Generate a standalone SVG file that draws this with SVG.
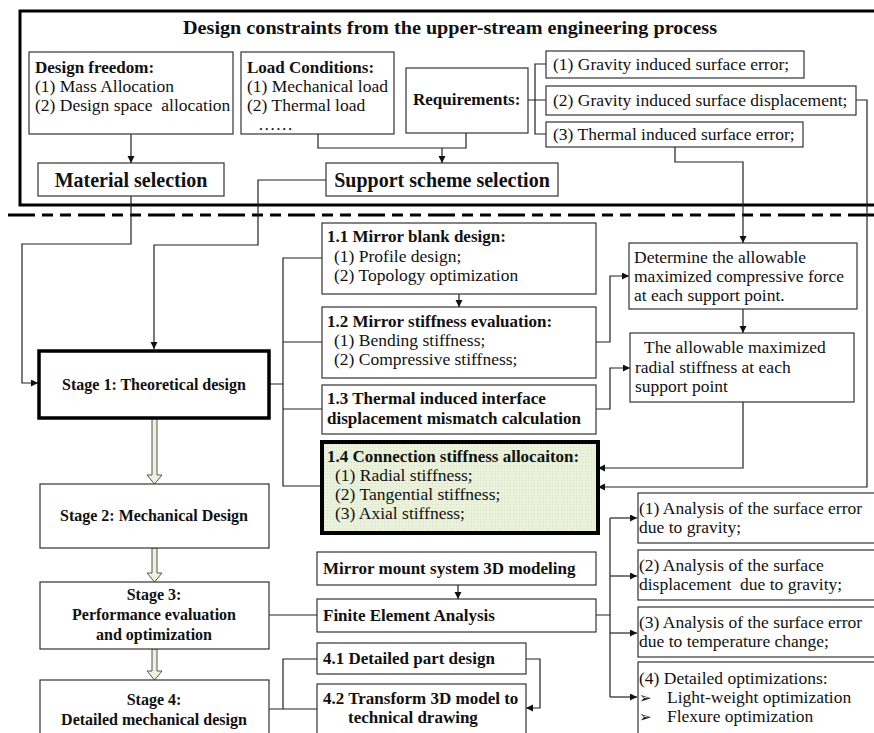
<svg xmlns="http://www.w3.org/2000/svg" width="874" height="733" viewBox="0 0 874 733">
<style>
text{font-family:"Liberation Serif","Times New Roman",serif;fill:#111;}
.t{font-size:17.5px;}
.b{font-size:17px;font-weight:bold;}
.sb{font-size:16px;font-weight:bold;text-anchor:middle;}
.bb{font-size:20px;font-weight:bold;text-anchor:middle;}
.box{fill:#fff;stroke:#333;stroke-width:1.2;}
.thick{fill:#fff;stroke:#000;stroke-width:3.5;}
.ln{fill:none;stroke:#222;stroke-width:1.2;}
.arr{fill:none;stroke:#222;stroke-width:1.2;marker-end:url(#ah);}
.big{fill:#eef1dc;stroke:#555;stroke-width:1;}
.sym{font-family:"DejaVu Sans",sans-serif;font-size:15px;}
</style>
<defs>
<marker id="ah" markerUnits="userSpaceOnUse" markerWidth="8" markerHeight="8" refX="7" refY="3.5" orient="auto">
<path d="M0,0 L7,3.5 L0,7 z" fill="#111"/>
</marker>
<pattern id="grn" width="3" height="3" patternUnits="userSpaceOnUse">
<rect width="3" height="3" fill="#eaf2dc"/>
<rect width="1" height="1" fill="#d6e3c2"/>
</pattern>
</defs>
<rect width="874" height="733" fill="#fff"/>

<g id="frame">
<rect x="20" y="11" width="870" height="194" fill="none" stroke="#000" stroke-width="3"/>
<text x="450" y="34" text-anchor="middle" textLength="534" lengthAdjust="spacingAndGlyphs" style="font-size:18px;font-weight:bold">Design constraints from the upper-stream engineering process</text>
<line x1="8" y1="215" x2="874" y2="215" stroke="#000" stroke-width="3" stroke-dasharray="27 7 11 7 11 7"/>
</g>

<g id="connectors">
<path class="arr" d="M131,134 V163"/>
<path class="ln" d="M318,134 V148 H466 V133"/>
<path class="arr" d="M442,148 V163"/>
<path class="ln" d="M528,100 H546 M546,64 H535 V134 H546"/>
<path class="arr" d="M675,147 V162 H743 V243"/>
<path class="arr" d="M856,100 H867 V487 H598"/>
<path class="arr" d="M131,196 V244 H22 V383 H38"/>
<path class="arr" d="M326,180 H258 V245 H154 V349"/>
<path class="ln" d="M269,384 H283 M322,258 H283 V486 H322 M283,342 H322 M283,409 H322"/>
<path class="arr" d="M459,294 V307"/>
<path class="arr" d="M596,342 H610 V276 H629"/>
<path class="arr" d="M743,309 V333"/>
<path class="arr" d="M596,409 H610 V368 H630"/>
<path class="arr" d="M743,402 V468 H598"/>
<path class="arr" d="M458,585 V599"/>
<path class="ln" d="M269,615 H317"/>
<path class="ln" d="M596,615 H610 M610,518 V697"/>
<path class="arr" d="M610,518 H637"/>
<path class="arr" d="M610,576 H637"/>
<path class="arr" d="M610,633 H637"/>
<path class="arr" d="M610,697 H637"/>
<path class="ln" d="M269,709 H317 M317,659 H283 V709"/>
<path class="arr" d="M526,659 H540 V708 H526"/>
<polygon class="big" points="152,418 157,418 157,475 162,475 154.5,484 147,475 152,475"/>
<polygon class="big" points="152,548 157,548 157,573 162,573 154.5,582 147,573 152,573"/>
<polygon class="big" points="152,649 157,649 157,671 162,671 154.5,680 147,671 152,671"/>
</g>

<g id="design-freedom">
<rect class="box" x="29" y="52" width="204" height="82"/>
<text class="b" x="35" y="73">Design freedom:</text>
<text class="t" x="35" y="92">(1) Mass Allocation</text>
<text class="t" x="35" y="111" xml:space="preserve">(2) Design space  allocation</text>
</g>
<g id="load-conditions">
<rect class="box" x="241" y="52" width="153" height="82"/>
<text class="b" x="247" y="73">Load Conditions:</text>
<text class="t" x="247" y="92">(1) Mechanical load</text>
<text class="t" x="247" y="111">(2) Thermal load</text>
<text class="t" x="258" y="130">……</text>
</g>
<g id="requirements">
<rect class="box" x="406" y="68" width="122" height="65"/>
<text class="b" x="413" y="105">Requirements:</text>
</g>
<g id="req1">
<rect class="box" x="546" y="51" width="258" height="27"/>
<text class="t" x="553" y="70">(1) Gravity induced surface error;</text>
</g>
<g id="req2">
<rect class="box" x="546" y="86" width="310" height="29"/>
<text class="t" x="553" y="106">(2) Gravity induced surface displacement;</text>
</g>
<g id="req3">
<rect class="box" x="546" y="122" width="257" height="25"/>
<text class="t" x="553" y="140">(3) Thermal induced surface error;</text>
</g>
<g id="material-selection">
<rect class="box" x="38" y="163" width="186" height="33"/>
<text class="bb" x="131" y="187">Material selection</text>
</g>
<g id="support-scheme">
<rect class="box" x="326" y="163" width="232" height="33"/>
<text class="bb" x="442" y="187">Support scheme selection</text>
</g>

<g id="stage1">
<rect class="thick" x="39" y="351" width="230" height="67"/>
<text class="sb" x="154" y="390">Stage 1: Theoretical design</text>
</g>
<g id="s1-1">
<rect class="box" x="322" y="223" width="274" height="71"/>
<text class="b" x="327" y="242">1.1 Mirror blank design:</text>
<text class="t" x="334" y="262">(1) Profile design;</text>
<text class="t" x="334" y="281">(2) Topology optimization</text>
</g>
<g id="s1-2">
<rect class="box" x="322" y="307" width="274" height="71"/>
<text class="b" x="327" y="327">1.2 Mirror stiffness evaluation:</text>
<text class="t" x="334" y="346">(1) Bending stiffness;</text>
<text class="t" x="334" y="365">(2) Compressive stiffness;</text>
</g>
<g id="s1-3">
<rect class="box" x="322" y="385" width="274" height="49"/>
<text class="b" x="327" y="404">1.3 Thermal induced interface</text>
<text class="b" x="327" y="424">displacement mismatch calculation</text>
</g>
<g id="s1-4">
<rect x="322" y="442" width="276" height="91" fill="url(#grn)" stroke="#000" stroke-width="4"/>
<text class="b" x="327" y="462">1.4 Connection stiffness allocaiton:</text>
<text class="t" x="335" y="481">(1) Radial stiffness;</text>
<text class="t" x="335" y="500">(2) Tangential stiffness;</text>
<text class="t" x="335" y="519">(3) Axial stiffness;</text>
</g>
<g id="compressive-force">
<rect class="box" x="629" y="243" width="228" height="66"/>
<text class="t" x="634" y="263">Determine the allowable</text>
<text class="t" x="634" y="282">maximized compressive force</text>
<text class="t" x="634" y="301">at each support point.</text>
</g>
<g id="radial-stiffness">
<rect class="box" x="630" y="333" width="224" height="69"/>
<text class="t" x="644" y="353">The allowable maximized</text>
<text class="t" x="635" y="373">radial stiffness at each</text>
<text class="t" x="635" y="392">support point</text>
</g>

<g id="stage2">
<rect class="box" x="40" y="484" width="229" height="64"/>
<text class="sb" x="154" y="521">Stage 2: Mechanical Design</text>
</g>
<g id="stage3">
<rect class="box" x="40" y="582" width="229" height="67"/>
<text class="sb" x="154" y="600">Stage 3:</text>
<text class="sb" x="154" y="620">Performance evaluation</text>
<text class="sb" x="154" y="640">and optimization</text>
</g>
<g id="stage4">
<rect class="box" x="40" y="680" width="229" height="70"/>
<text class="sb" x="154" y="705">Stage 4:</text>
<text class="sb" x="154" y="725">Detailed mechanical design</text>
</g>
<g id="modeling">
<rect class="box" x="317" y="552" width="279" height="33"/>
<text class="b" x="323" y="574">Mirror mount system 3D modeling</text>
</g>
<g id="fea">
<rect class="box" x="317" y="599" width="279" height="33"/>
<text class="b" x="323" y="621">Finite Element Analysis</text>
</g>
<g id="s4-1">
<rect class="box" x="317" y="643" width="209" height="31"/>
<text class="b" x="323" y="664">4.1 Detailed part design</text>
</g>
<g id="s4-2">
<rect class="box" x="317" y="684" width="209" height="70"/>
<text class="b" x="323" y="704">4.2 Transform 3D model to</text>
<text class="b" x="348" y="723">technical drawing</text>
</g>
<g id="an1">
<rect class="box" x="638" y="493" width="250" height="50"/>
<text class="t" x="639" y="514">(1) Analysis of the surface error</text>
<text class="t" x="639" y="533">due to gravity;</text>
</g>
<g id="an2">
<rect class="box" x="638" y="550" width="250" height="50"/>
<text class="t" x="639" y="571">(2) Analysis of the surface</text>
<text class="t" x="639" y="590" xml:space="preserve">displacement  due to gravity;</text>
</g>
<g id="an3">
<rect class="box" x="638" y="607" width="250" height="50"/>
<text class="t" x="639" y="628">(3) Analysis of the surface error</text>
<text class="t" x="639" y="647">due to temperature change;</text>
</g>
<g id="an4">
<rect class="box" x="638" y="662" width="250" height="90"/>
<text class="t" x="639" y="684">(4) Detailed optimizations:</text>
<text class="t" x="639" y="703"><tspan class="sym">➢</tspan><tspan x="667">Light-weight optimization</tspan></text>
<text class="t" x="639" y="722"><tspan class="sym">➢</tspan><tspan x="667">Flexure optimization</tspan></text>
</g>
</svg>
